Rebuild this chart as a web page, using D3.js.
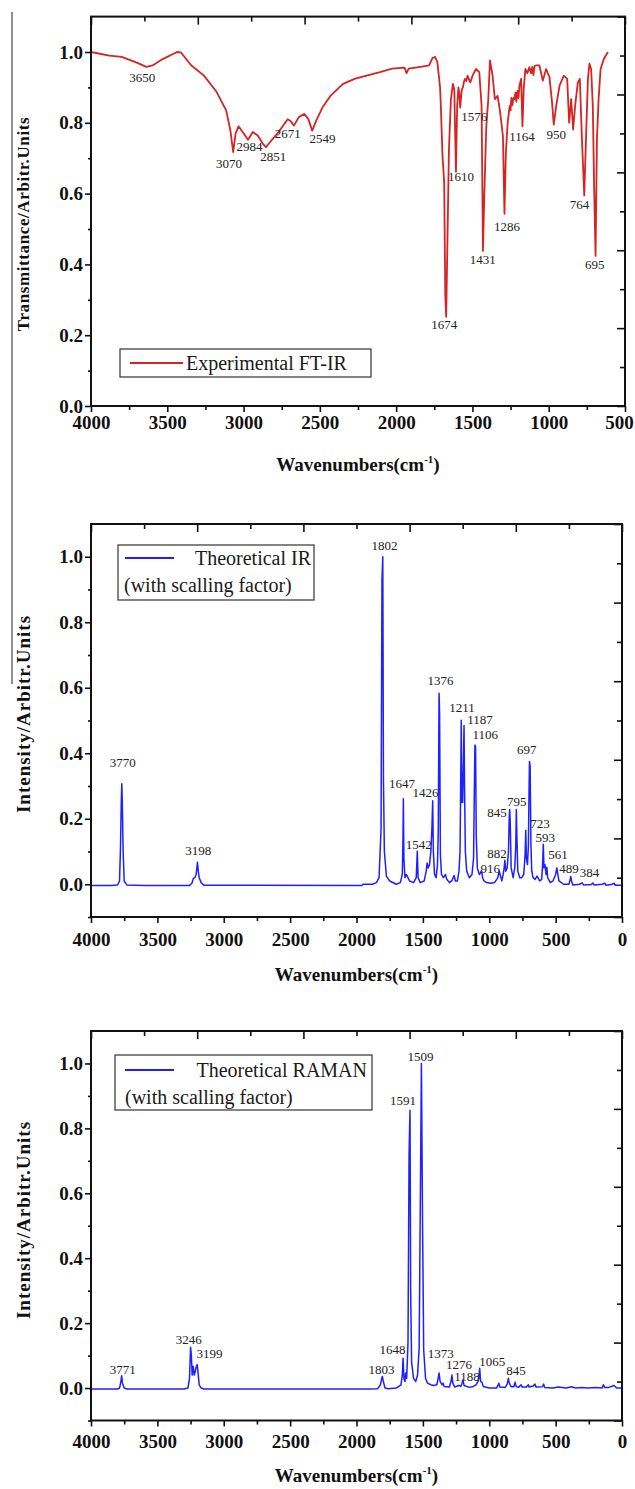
<!DOCTYPE html>
<html>
<head>
<meta charset="utf-8">
<script src="https://cdn.jsdelivr.net/npm/d3@7"></script>
<style>
  body { margin: 0; background: #fff; }
  svg { display: block; }
  text { font-family: "Liberation Serif", "Times New Roman", serif; }
</style>
</head>
<body>
<svg id="fig" width="635" height="1489"></svg>
<script>
// ---- data ----

// experimental FT-IR spectrum, [wavenumber, transmittance]
var ftirPoints = [
  [4000, 1.0], [3880, 0.99], [3799, 0.986], [3700, 0.97], [3637, 0.958], [3597, 0.962], [3530, 0.98],
  [3436, 1.0], [3409, 0.998], [3342, 0.962], [3261, 0.934], [3181, 0.89], [3114, 0.835],
  [3087, 0.78], [3068, 0.717], [3052, 0.77], [3033, 0.79], [3006, 0.774], [2971, 0.752],
  [2939, 0.774], [2907, 0.764], [2872, 0.74], [2853, 0.731], [2818, 0.75], [2778, 0.77],
  [2711, 0.81], [2692, 0.805], [2670, 0.792], [2638, 0.816], [2603, 0.825], [2576, 0.811],
  [2550, 0.778], [2523, 0.807], [2482, 0.844], [2429, 0.877], [2348, 0.91], [2268, 0.925],
  [2187, 0.934], [2106, 0.943], [2026, 0.953], [1945, 0.956], [1932, 0.94], [1918, 0.953],
  [1840, 0.958], [1784, 0.962], [1762, 0.983], [1745, 0.986], [1730, 0.972], [1712, 0.9],
  [1707, 0.848], [1696, 0.705], [1685, 0.63], [1678, 0.314], [1672, 0.252], [1663, 0.486],
  [1654, 0.724], [1641, 0.867], [1628, 0.91], [1619, 0.895], [1608, 0.662], [1600, 0.848],
  [1596, 0.87], [1592, 0.9], [1585, 0.88], [1580, 0.843], [1575, 0.87], [1569, 0.895],
  [1562, 0.9], [1556, 0.915], [1549, 0.924], [1540, 0.918], [1532, 0.933], [1520, 0.92],
  [1514, 0.914], [1499, 0.933], [1477, 0.952], [1455, 0.943], [1440, 0.848], [1431, 0.438],
  [1422, 0.6], [1409, 0.79], [1396, 0.867], [1385, 0.976], [1368, 0.933], [1353, 0.867],
  [1335, 0.876], [1318, 0.829], [1300, 0.762], [1290, 0.543], [1281, 0.714], [1269, 0.8],
  [1256, 0.848], [1250, 0.835], [1245, 0.87], [1238, 0.85], [1232, 0.87], [1225, 0.867],
  [1218, 0.885], [1212, 0.86], [1205, 0.89], [1198, 0.87], [1192, 0.905], [1181, 0.924],
  [1172, 0.79], [1164, 0.895], [1153, 0.952], [1140, 0.94], [1127, 0.957], [1115, 0.94],
  [1108, 0.958], [1100, 0.935], [1093, 0.96], [1083, 0.962], [1061, 0.962], [1039, 0.919],
  [1017, 0.952], [995, 0.929], [978, 0.857], [967, 0.795], [951, 0.848], [929, 0.905],
  [901, 0.933], [879, 0.924], [866, 0.8], [853, 0.867], [840, 0.781], [827, 0.848],
  [809, 0.914], [796, 0.924], [783, 0.762], [767, 0.595], [756, 0.752], [743, 0.924],
  [733, 0.967], [722, 0.952], [711, 0.848], [702, 0.61], [693, 0.424], [684, 0.752],
  [673, 0.867], [660, 0.952], [638, 0.981], [612, 1.0]
];

// theoretical IR spectrum, [wavenumber, intensity]
var irPoints = [
  [4000, -0.004], [3850, -0.004], [3800, -0.002], [3785, 0.01], [3778, 0.11], [3772, 0.25],
  [3768, 0.307], [3764, 0.25], [3758, 0.1], [3750, 0.01], [3730, -0.002], [3600, -0.004],
  [3260, -0.004], [3240, 0.003], [3228, 0.018], [3218, 0.02], [3208, 0.03], [3198, 0.067],
  [3192, 0.04], [3185, 0.02], [3170, 0.005], [3150, -0.003], [1960, -0.004], [1950, 0.0],
  [1880, 0.0], [1850, 0.005], [1830, 0.02], [1815, 0.17], [1808, 0.93], [1802, 1.0],
  [1797, 0.32], [1790, 0.1], [1775, 0.025], [1750, 0.01], [1700, 0.0], [1670, 0.005],
  [1655, 0.03], [1650, 0.134], [1647, 0.261], [1643, 0.08], [1635, 0.02], [1625, 0.03],
  [1618, 0.025], [1600, 0.01], [1570, 0.005], [1550, 0.02], [1542, 0.101], [1536, 0.02],
  [1520, 0.005], [1490, 0.01], [1475, 0.04], [1468, 0.065], [1460, 0.05], [1450, 0.06],
  [1440, 0.1], [1432, 0.17], [1426, 0.255], [1421, 0.1], [1412, 0.03], [1400, 0.02],
  [1390, 0.06], [1384, 0.165], [1378, 0.583], [1374, 0.52], [1368, 0.09], [1360, 0.03],
  [1345, 0.02], [1330, 0.03], [1320, 0.015], [1300, 0.005], [1280, 0.012], [1265, 0.027],
  [1255, 0.01], [1240, 0.01], [1228, 0.04], [1220, 0.1], [1215, 0.31], [1211, 0.501],
  [1206, 0.25], [1200, 0.25], [1195, 0.365], [1190, 0.485], [1186, 0.3], [1180, 0.1],
  [1170, 0.04], [1150, 0.02], [1130, 0.03], [1118, 0.08], [1112, 0.3], [1108, 0.425],
  [1103, 0.42], [1098, 0.15], [1090, 0.05], [1075, 0.03], [1065, 0.035], [1058, 0.042],
  [1050, 0.02], [1040, 0.01], [1020, 0.005], [990, 0.003], [960, 0.005], [935, 0.02],
  [925, 0.04], [918, 0.03], [905, 0.01], [895, 0.03], [888, 0.05], [882, 0.073],
  [876, 0.04], [865, 0.05], [855, 0.1], [850, 0.2], [846, 0.228], [842, 0.19], [835, 0.05],
  [820, 0.02], [808, 0.05], [800, 0.12], [796, 0.228], [792, 0.15], [785, 0.04], [770, 0.02],
  [755, 0.02], [740, 0.03], [730, 0.09], [725, 0.165], [720, 0.08], [712, 0.06], [705, 0.12],
  [701, 0.26], [697, 0.375], [692, 0.36], [686, 0.12], [680, 0.04], [670, 0.02], [655, 0.015],
  [640, 0.025], [620, 0.01], [605, 0.015], [598, 0.06], [593, 0.122], [588, 0.05], [580, 0.06],
  [572, 0.03], [566, 0.052], [560, 0.02], [540, 0.005], [520, 0.01], [500, 0.03], [491, 0.05],
  [485, 0.035], [475, 0.01], [440, 0.0], [400, 0.0], [390, 0.015], [386, 0.024], [380, 0.01],
  [370, -0.002], [320, 0.0], [300, 0.004], [290, -0.002], [230, -0.001], [220, 0.004],
  [210, -0.002], [150, 0.0], [130, 0.003], [120, -0.003], [80, -0.001], [60, 0.003],
  [50, -0.003], [0, -0.003]
];

// theoretical Raman spectrum, [wavenumber, intensity]
var ramanPoints = [
  [4000, -0.003], [3800, -0.003], [3785, 0.0], [3775, 0.02], [3769, 0.038], [3763, 0.015],
  [3750, 0.0], [3730, -0.003], [3300, -0.003], [3270, 0.0], [3258, 0.03], [3250, 0.126],
  [3244, 0.1], [3238, 0.04], [3230, 0.067], [3222, 0.04], [3215, 0.05], [3208, 0.065],
  [3200, 0.072], [3194, 0.05], [3185, 0.01], [3170, 0.0], [3150, -0.003], [1900, -0.003],
  [1840, -0.002], [1820, 0.01], [1810, 0.03], [1805, 0.036], [1798, 0.02], [1785, 0.0],
  [1760, -0.002], [1700, 0.0], [1665, 0.01], [1655, 0.04], [1649, 0.092], [1643, 0.03],
  [1635, 0.02], [1630, 0.046], [1622, 0.03], [1612, 0.14], [1604, 0.72], [1597, 0.856],
  [1592, 0.3], [1585, 0.08], [1570, 0.03], [1554, 0.02], [1540, 0.04], [1528, 0.123],
  [1519, 0.58], [1511, 1.0], [1503, 0.537], [1494, 0.118], [1480, 0.03], [1465, 0.015],
  [1440, 0.01], [1420, 0.008], [1395, 0.01], [1385, 0.03], [1378, 0.046], [1370, 0.02],
  [1355, 0.01], [1348, 0.015], [1340, 0.005], [1300, 0.003], [1288, 0.02], [1281, 0.04],
  [1274, 0.015], [1260, 0.003], [1230, 0.008], [1215, 0.005], [1205, 0.015], [1198, 0.025],
  [1190, 0.008], [1150, 0.002], [1120, 0.005], [1100, 0.01], [1085, 0.02], [1078, 0.035],
  [1072, 0.061], [1065, 0.02], [1055, 0.018], [1045, 0.005], [1000, 0.0], [945, 0.0],
  [935, 0.008], [928, 0.015], [920, 0.003], [880, 0.002], [865, 0.012], [856, 0.03],
  [849, 0.015], [835, 0.004], [815, 0.004], [805, 0.018], [798, 0.005], [780, 0.002],
  [760, 0.01], [752, 0.003], [720, 0.003], [705, 0.01], [700, 0.003], [670, 0.006],
  [655, 0.012], [648, 0.003], [600, 0.004], [590, 0.012], [583, 0.002], [520, 0.0],
  [480, 0.003], [420, 0.0], [380, 0.004], [350, 0.0], [300, 0.002], [260, 0.0], [200, 0.002],
  [150, 0.0], [140, 0.01], [130, 0.002], [100, 0.002], [60, 0.008], [40, 0.0], [0, 0.0]
];

// peak labels: [text, wavenumber, value] at the label centre
var ftirLabels = [
  ['3650', 3664, 0.929], ['3070', 3095, 0.684], ['2984', 2961, 0.734], ['2851', 2805, 0.706],
  ['2671', 2711, 0.771], ['2549', 2482, 0.755], ['1576', 1488, 0.817], ['1610', 1575, 0.648],
  ['1674', 1685, 0.229], ['1431', 1433, 0.414], ['1286', 1273, 0.507], ['1164', 1175, 0.762],
  ['950', 951, 0.767], ['764', 798, 0.57], ['695', 699, 0.4]
];
var irLabels = [
  ['1802', 1790, 1.036], ['3770', 3761, 0.371], ['3198', 3193, 0.104], ['1647', 1657, 0.308],
  ['1426', 1481, 0.28], ['1542', 1531, 0.122], ['1376', 1368, 0.621], ['1211', 1206, 0.539],
  ['1187', 1070, 0.503], ['1106', 1030, 0.457], ['697', 717, 0.413], ['845', 942, 0.218],
  ['795', 792, 0.252], ['723', 617, 0.185], ['593', 578, 0.142], ['561', 482, 0.091],
  ['489', 400, 0.047], ['384', 245, 0.036], ['882', 942, 0.095], ['916', 992, 0.049]
];
var ramanLabels = [
  ['3771', 3761, 0.056], ['3246', 3263, 0.149], ['3199', 3107, 0.106], ['1803', 1812, 0.056],
  ['1648', 1729, 0.118], ['1591', 1649, 0.885], ['1509', 1517, 1.023], ['1373', 1366, 0.106],
  ['1276', 1228, 0.074], ['1188', 1167, 0.036], ['1065', 977, 0.082], ['845', 799, 0.053]
];

var xMajorWide = d3.range(4000, -1, -500);
var xMinorWide = d3.range(3750, 0, -500);
var xMajorFtir = d3.range(4000, 499, -500);
var xMinorFtir = d3.range(3750, 500, -500);
var yMajor = [0, 0.2, 0.4, 0.6, 0.8, 1.0];
var yMinor = [-0.1, 0.1, 0.3, 0.5, 0.7, 0.9];

// ---- drawing ----
var svg = d3.select('#fig');
var serif = '"Liberation Serif", "Times New Roman", serif';

// stray frame line on the far left of the original figure
svg.append('line')
  .attr('x1', 12).attr('x2', 12).attr('y1', 12).attr('y2', 684)
  .attr('stroke', '#444').attr('stroke-width', 1.2);

function drawPanel(p) {
  var x = d3.scaleLinear().domain(p.xDomain).range([91, p.right]);
  var y = d3.scaleLinear().domain(p.yDomain).range([p.bottom, p.top]);
  var g = svg.append('g');

  // the spectrum
  var line = d3.line()
    .x(function (d) { return x(d[0]); })
    .y(function (d) { return y(d[1]); });
  g.append('path')
    .datum(p.points)
    .attr('d', line)
    .attr('fill', 'none')
    .attr('stroke', p.color)
    .attr('stroke-width', p.lineWidth)
    .attr('stroke-linejoin', 'round');

  // left axis, ticks outward
  var yAxis = g.append('g').attr('transform', 'translate(91,0)')
    .call(d3.axisLeft(y).tickValues(yMajor).tickSize(6).tickSizeOuter(0).tickFormat(d3.format('.1f')));
  g.append('g').attr('transform', 'translate(91,0)')
    .call(d3.axisLeft(y).tickValues(yMinor.filter(function (v) { return v >= p.yDomain[0]; }))
      .tickSize(3).tickSizeOuter(0).tickFormat(''));
  yAxis.selectAll('text')
    .style('font-family', serif).style('font-size', '19px').style('font-weight', 'bold')
    .attr('fill', '#111').attr('x', -8);

  // bottom axis, ticks outward
  var xAxis = g.append('g').attr('transform', 'translate(0,' + p.bottom + ')')
    .call(d3.axisBottom(x).tickValues(p.xMajor).tickSize(6).tickSizeOuter(0).tickFormat(d3.format('d')));
  g.append('g').attr('transform', 'translate(0,' + p.bottom + ')')
    .call(d3.axisBottom(x).tickValues(p.xMinor).tickSize(4).tickSizeOuter(0).tickFormat(''));
  xAxis.selectAll('text')
    .style('font-family', serif).style('font-size', '19px').style('font-weight', 'bold')
    .attr('fill', '#111').attr('y', p.xLabelGap).attr('dy', '0.71em')
    .attr('dx', function (d) { return d === p.xDomain[1] && p.xDomain[1] > 0 ? -6 : 0; });

  // top and right mirror ticks (ten equal divisions, pointing inward)
  var xd = p.xDomain, yd = p.yDomain;
  var topTicks = d3.range(11).map(function (i) { return xd[0] + i * (xd[1] - xd[0]) / 10; });
  var rightTicks = d3.range(11).map(function (i) { return yd[0] + i * (yd[1] - yd[0]) / 10; });
  g.append('g').attr('transform', 'translate(0,' + p.top + ')')
    .call(d3.axisTop(x).tickValues(topTicks.filter(function (v, i) { return i % 2 === 0; }))
      .tickSize(-8).tickSizeOuter(0).tickFormat(''));
  g.append('g').attr('transform', 'translate(0,' + p.top + ')')
    .call(d3.axisTop(x).tickValues(topTicks.filter(function (v, i) { return i % 2 === 1; }))
      .tickSize(-5).tickSizeOuter(0).tickFormat(''));
  g.append('g').attr('transform', 'translate(' + p.right + ',0)')
    .call(d3.axisRight(y).tickValues(rightTicks.filter(function (v, i) { return i % 2 === 0; }))
      .tickSize(-8).tickSizeOuter(0).tickFormat(''));
  g.append('g').attr('transform', 'translate(' + p.right + ',0)')
    .call(d3.axisRight(y).tickValues(rightTicks.filter(function (v, i) { return i % 2 === 1; }))
      .tickSize(-5).tickSizeOuter(0).tickFormat(''));

  g.selectAll('.domain').remove();
  g.selectAll('.tick line').attr('stroke', '#111').attr('stroke-width', 1.6);

  // frame
  g.append('rect')
    .attr('x', 91).attr('y', p.top)
    .attr('width', p.right - 91).attr('height', p.bottom - p.top)
    .attr('fill', 'none').attr('stroke', '#111').attr('stroke-width', 2);

  // peak labels
  g.selectAll('text.peak')
    .data(p.labels)
    .enter().append('text')
    .attr('class', 'peak')
    .attr('x', function (d) { return x(d[1]); })
    .attr('y', function (d) { return y(d[2]); })
    .attr('dy', '0.35em')
    .attr('text-anchor', 'middle')
    .attr('font-size', 13)
    .attr('fill', '#222')
    .text(function (d) { return d[0]; });

  // axis titles
  var xt = g.append('text')
    .attr('x', (91 + p.right) / 2).attr('y', p.titleY)
    .attr('text-anchor', 'middle')
    .attr('font-size', 19).attr('font-weight', 'bold').attr('fill', '#111');
  xt.append('tspan').text('Wavenumbers(cm');
  xt.append('tspan').attr('font-size', 11).attr('dy', -8).text('-1');
  xt.append('tspan').attr('dy', 8).text(')');

  g.append('text')
    .attr('transform', 'translate(' + p.yTitleX + ',' + p.yTitleY + ') rotate(-90)')
    .attr('text-anchor', 'middle')
    .attr('font-size', p.yTitleSize).attr('font-weight', 'bold').attr('fill', '#111')
    .attr('letter-spacing', p.yTitleSpacing)
    .text(p.yTitle);

  // legend
  var L = p.legend;
  g.append('rect')
    .attr('x', L.x).attr('y', L.y).attr('width', L.w).attr('height', L.h)
    .attr('fill', '#fff').attr('stroke', '#333').attr('stroke-width', 1.2);
  g.append('line')
    .attr('x1', L.x + L.lineFrom).attr('x2', L.x + L.lineTo)
    .attr('y1', L.y + L.lineY).attr('y2', L.y + L.lineY)
    .attr('stroke', p.color).attr('stroke-width', 2.2);
  L.lines.forEach(function (t) {
    g.append('text')
      .attr('x', L.x + t.x).attr('y', L.y + t.y)
      .attr('text-anchor', t.anchor)
      .attr('font-size', 20).attr('fill', '#1a1a1a')
      .text(t.text);
  });
}

drawPanel({
  points: ftirPoints, labels: ftirLabels, color: '#d42424', lineWidth: 1.8,
  xDomain: [4000, 500], yDomain: [0, 1.1], right: 625, top: 16.6, bottom: 406,
  xMajor: xMajorFtir, xMinor: xMinorFtir, xLabelGap: 10, titleY: 471,
  yTitle: 'Transmittance/Arbitr.Units', yTitleX: 29, yTitleY: 224, yTitleSize: 17, yTitleSpacing: 0.6,
  legend: {
    x: 120, y: 349, w: 251, h: 28, lineFrom: 10, lineTo: 63, lineY: 14,
    lines: [{ text: 'Experimental FT-IR', x: 66, y: 21, anchor: 'start' }]
  }
});

drawPanel({
  points: irPoints, labels: irLabels, color: '#1f1fff', lineWidth: 1.5,
  xDomain: [4000, 0], yDomain: [-0.1, 1.1], right: 622, top: 524, bottom: 917,
  xMajor: xMajorWide, xMinor: xMinorWide, xLabelGap: 16, titleY: 981,
  yTitle: 'Intensity/Arbitr.Units', yTitleX: 30, yTitleY: 714, yTitleSize: 19, yTitleSpacing: 1,
  legend: {
    x: 118, y: 545, w: 196, h: 55, lineFrom: 7, lineTo: 56, lineY: 13,
    lines: [
      { text: 'Theoretical IR', x: 193, y: 20, anchor: 'end' },
      { text: '(with scalling factor)', x: 6, y: 47, anchor: 'start' }
    ]
  }
});

drawPanel({
  points: ramanPoints, labels: ramanLabels, color: '#1f1fff', lineWidth: 1.5,
  xDomain: [4000, 0], yDomain: [-0.1, 1.1], right: 622, top: 1031, bottom: 1420.5,
  xMajor: xMajorWide, xMinor: xMinorWide, xLabelGap: 14, titleY: 1482,
  yTitle: 'Intensity/Arbitr.Units', yTitleX: 30, yTitleY: 1220, yTitleSize: 19, yTitleSpacing: 1,
  legend: {
    x: 115, y: 1055, w: 257, h: 55, lineFrom: 10, lineTo: 59, lineY: 15,
    lines: [
      { text: 'Theoretical RAMAN', x: 252, y: 22, anchor: 'end' },
      { text: '(with scalling factor)', x: 10, y: 49, anchor: 'start' }
    ]
  }
});
</script>
</body>
</html>
